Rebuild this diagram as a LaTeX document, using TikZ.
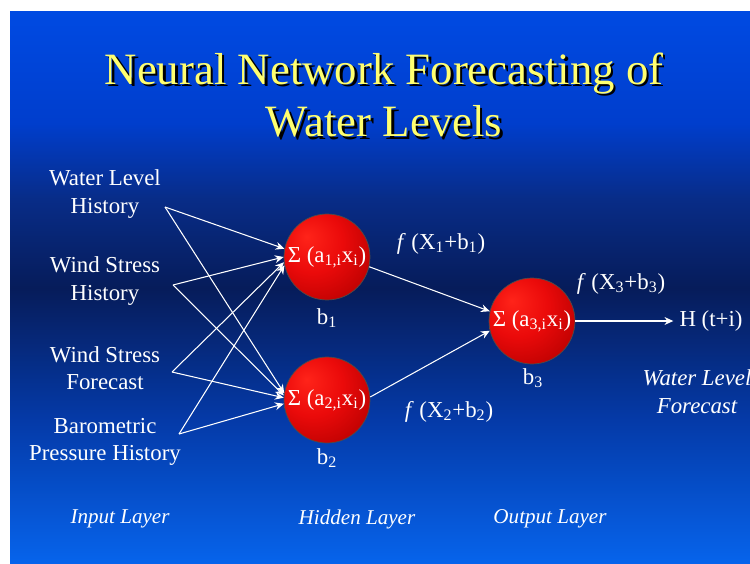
\documentclass[tikz,border=0pt]{standalone}
\usepackage{fontspec}
\setmainfont{Liberation Serif}
\usetikzlibrary{arrows.meta}
\definecolor{SlideTop}{RGB}{0,74,226}
\definecolor{SlideHigh}{RGB}{0,62,205}
\definecolor{SlideDeep}{RGB}{8,44,135}
\definecolor{SlideMid}{RGB}{6,28,90}
\definecolor{SlideLow}{RGB}{5,58,168}
\definecolor{SlideBot}{RGB}{6,100,236}
\definecolor{TitleYellow}{RGB}{255,255,112}
\pgfdeclareverticalshading{slideblue}{100bp}{color(0bp)=(SlideBot); color(25bp)=(SlideBot); color(38bp)=(SlideLow); color(50bp)=(SlideMid); color(58bp)=(SlideDeep); color(65bp)=(SlideHigh); color(75bp)=(SlideTop); color(100bp)=(SlideTop)}
\pgfdeclareradialshading{neuronball}{\pgfpoint{-12bp}{12bp}}{rgb(0bp)=(1,0.14,0.1); rgb(18bp)=(0.92,0.04,0.04); rgb(38bp)=(0.72,0,0); rgb(52bp)=(0.55,0,0); rgb(70bp)=(0.5,0,0)}

\begin{document}
\begin{tikzpicture}[x=0.02cm, y=-0.02cm, font=\fontsize{13}{15.6}\selectfont, every node/.style={align=center, text=white}]
\tikzset{
  neuron/.style={circle, draw=black!70, thin, shading=neuronball, minimum size=1.72cm, inner sep=0pt},
  heading/.style={font=\fontsize{25.5}{30}\selectfont},
  layer/.style={font=\fontsize{12}{14}\selectfont\itshape},
  arr/.style={-{Stealth[length=5pt, width=4.5pt]}, white, line width=0.6pt}
}
  \useasboundingbox (0,0) rectangle (750,564);
  \fill[white] (0,0) rectangle (750,564);
  \shade[shading=slideblue] (10,12) rectangle (750,564);

  \node[heading, text=black] (titleshadow) at (386.5,97.5) {Neural Network Forecasting of\\Water Levels};
  \node[heading, text=TitleYellow] (title) at (384,95) {Neural Network Forecasting of\\Water Levels};

  \node (wlh) at (105,194) {Water Level\\History};
  \node (wsh) at (105,281) {Wind Stress\\History};
  \node (wsf) at (105,368) {Wind Stress\\Forecast};
  \node (bph) at (105,442) {Barometric\\Pressure History};
  \coordinate (wlhout) at (165,207);
  \coordinate (wshout) at (173,285);
  \coordinate (wsfout) at (172,372);
  \coordinate (bphout) at (179,434);

  \node[neuron, label=center:{Σ (a\textsubscript{1,i}x\textsubscript{i})}] (h1) at (327,257) {};
  \node[neuron, label=center:{Σ (a\textsubscript{2,i}x\textsubscript{i})}] (h2) at (327,400) {};
  \node[neuron, label=center:{Σ (a\textsubscript{3,i}x\textsubscript{i})}] (out) at (532,321) {};
  \node (b1) at (327,318) {b\textsubscript{1}};
  \node (b2) at (327,458) {b\textsubscript{2}};
  \node (b3) at (533,378) {b\textsubscript{3}};

  \draw[arr] (wlhout) -- (h1.169);
  \draw[arr] (wshout) -- (h1.180);
  \draw[arr] (wsfout) -- (h1.187);
  \draw[arr] (bphout) -- (h1.191);
  \draw[arr] (wlhout) -- (h2.171);
  \draw[arr] (wshout) -- (h2.174);
  \draw[arr] (wsfout) -- (h2.177);
  \draw[arr] (bphout) -- (h2.185);

  \node (f1) at (441,244) {\textit{f} (X\textsubscript{1}+b\textsubscript{1})};
  \node (f2) at (449,412) {\textit{f} (X\textsubscript{2}+b\textsubscript{2})};
  \node (f3) at (621,284) {\textit{f} (X\textsubscript{3}+b\textsubscript{3})};
  \draw[arr] (h1.-13) -- (out.167);
  \draw[arr] (h2.4) -- (out.193);

  \node (hti) at (711,321) {H (t+i)};
  \draw[arr] (out.east) -- (hti.west);
  \node[font=\fontsize{13}{16}\selectfont\itshape] (wlf) at (697,392) {Water Level\\Forecast};

  \node[layer] (inl) at (120,519) {Input Layer};
  \node[layer] (hidl) at (357,519) {Hidden Layer};
  \node[layer] (outl) at (550,519) {Output Layer};
\end{tikzpicture}
\end{document}
